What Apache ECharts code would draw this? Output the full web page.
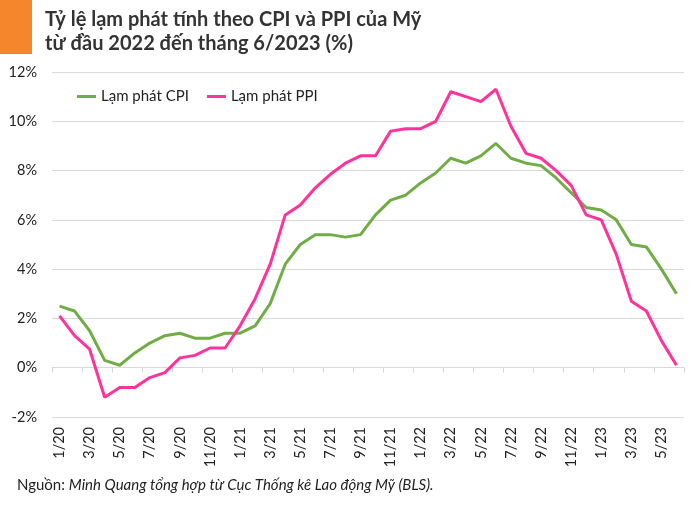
<!DOCTYPE html>
<html>
<head>
<meta charset="utf-8">
<script src="https://cdn.jsdelivr.net/npm/echarts@6/dist/echarts.min.js"></script>
<style>
html,body{margin:0;padding:0;background:#fff;}
#c{width:700px;height:505px;}
</style>
</head>
<body>
<div id="c"></div>
<script>
var months = [];
var years = ['20','21','22','23'];
for (var y = 0; y < years.length; y++) {
  for (var m = 1; m <= 12; m++) {
    if (years[y] === '23' && m > 6) break;
    months.push(m + '/' + years[y]);
  }
}
var cpi = [2.5,2.3,1.5,0.3,0.1,0.6,1.0,1.3,1.4,1.2,1.2,1.4,
           1.4,1.7,2.6,4.2,5.0,5.4,5.4,5.3,5.4,6.2,6.8,7.0,
           7.5,7.9,8.5,8.3,8.6,9.1,8.5,8.3,8.2,7.7,7.1,6.5,
           6.4,6.0,5.0,4.9,4.0,3.0];
var ppi = [2.1,1.3,0.75,-1.2,-0.8,-0.8,-0.4,-0.2,0.4,0.5,0.8,0.8,
           1.7,2.8,4.2,6.2,6.6,7.3,7.85,8.3,8.6,8.6,9.6,9.7,
           9.7,10.0,11.2,11.0,10.8,11.3,9.8,8.7,8.5,8.0,7.4,6.2,
           6.0,4.6,2.7,2.3,1.1,0.1];
var seriesNames = ['Lạm phát CPI','Lạm phát PPI'];
var yMin = -2, yMax = 12, yStep = 2;
var titleText = 'Tỷ lệ lạm phát tính theo CPI và PPI của Mỹ\ntừ đầu 2022 đến tháng 6/2023 (%)';

var chart = echarts.init(document.getElementById('c'), null, {renderer:'canvas'});
var grid = '#d9d9d9';
chart.setOption({
  animation: false,
  backgroundColor: '#fff',
  title: {
    text: titleText,
    left: 40, top: 3,
    textStyle: {fontFamily: 'Lato', fontSize: 20, fontWeight: 'bold', color: '#333', lineHeight: 24}
  },
  graphic: [
    {type: 'rect', shape: {x: 0, y: 0, width: 32, height: 54}, style: {fill: '#f5862c'}},
    {type: 'text', left: 17, top: 478, style: {
      text: 'Nguồn: {i|Minh Quang tổng hợp từ Cục Thống kê Lao động Mỹ (BLS).}',
      fontFamily: 'Lato', fontSize: 15, fill: '#222',
      rich: {i: {fontFamily: 'Lato', fontSize: 15, fontStyle: 'italic', fill: '#222'}}
    }}
  ],
  legend: {
    left: 72, top: 84, padding: 5,
    icon: 'rect',
    itemWidth: 19, itemHeight: 3, itemGap: 18,
    textStyle: {fontFamily: 'Lato', fontSize: 15, color: '#222'},
    data: seriesNames
  },
  grid: {left: 52, right: 16, top: 72, bottom: 88},
  xAxis: [
    {type: 'category', data: months, boundaryGap: true, position: 'bottom',
     axisLine: {onZero: true, lineStyle: {color: grid}},
     axisTick: {show: true, interval: 1, length: 5, lineStyle: {color: grid}},
     axisLabel: {show: false}},
    {type: 'category', data: months, boundaryGap: true, position: 'bottom',
     axisLine: {show: false, onZero: false}, axisTick: {show: false},
     axisLabel: {interval: 1, rotate: 90, margin: 10, fontFamily: 'Lato', fontSize: 14.5, color: '#222'}}
  ],
  yAxis: {
    type: 'value', min: yMin, max: yMax, interval: yStep,
    axisLine: {show: false}, axisTick: {show: false},
    splitLine: {lineStyle: {color: grid, width: 1}},
    axisLabel: {formatter: '{value}%', margin: 15, fontFamily: 'Lato', fontSize: 14.5, color: '#222'}
  },
  series: [
    {name: seriesNames[0], type: 'line', data: cpi, xAxisIndex: 0, symbol: 'none',
     lineStyle: {color: '#70ad47', width: 3}, itemStyle: {color: '#70ad47'}},
    {name: seriesNames[1], type: 'line', data: ppi, xAxisIndex: 0, symbol: 'none',
     lineStyle: {color: '#ff3399', width: 3}, itemStyle: {color: '#ff3399'}}
  ]
});
</script>
</body>
</html>
